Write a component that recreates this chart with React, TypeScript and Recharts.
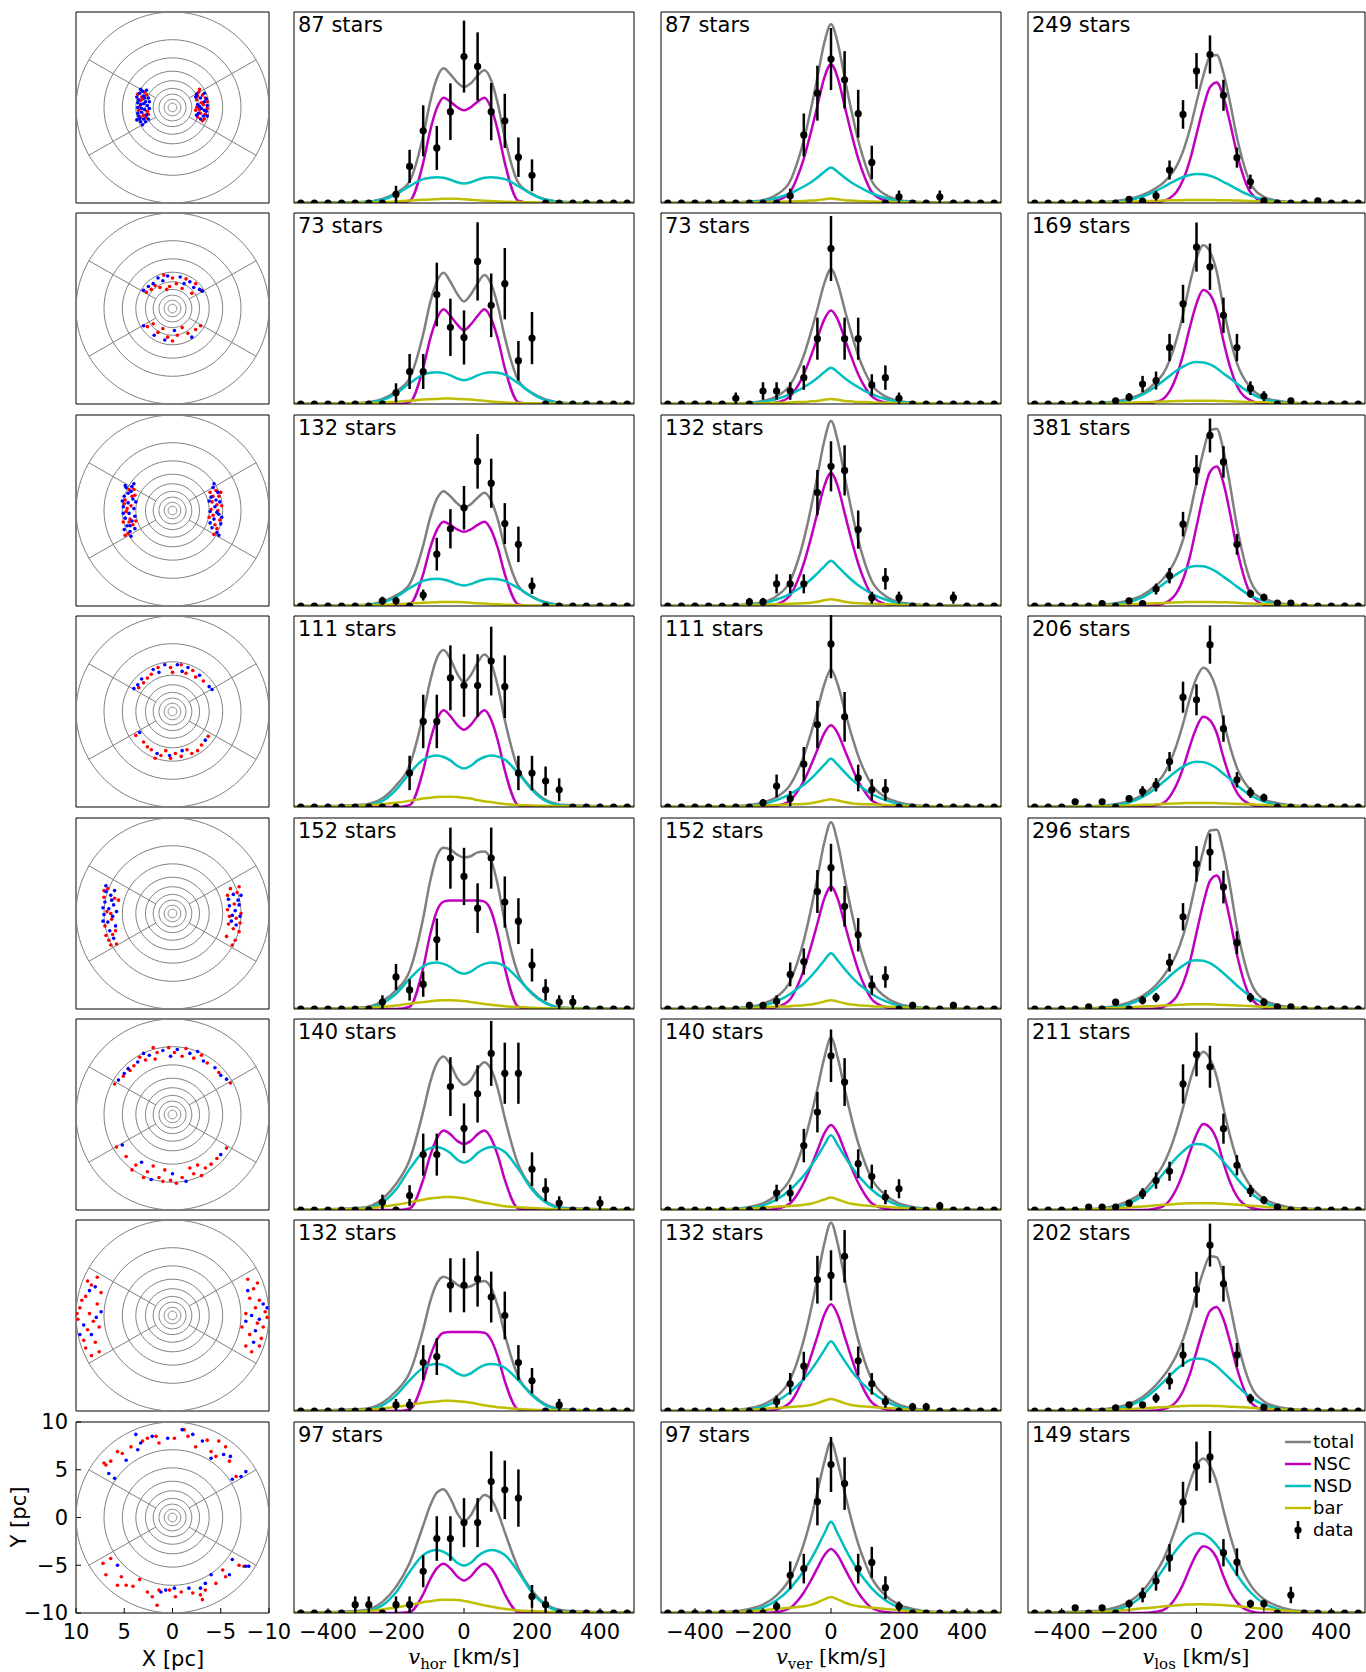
import React from 'react';
import { ComposedChart, Line, Scatter, XAxis, YAxis, ErrorBar, Legend } from 'recharts';

const FONT = '"DejaVu Sans", sans-serif';
const SERIF = '"DejaVu Serif", serif';
const C_TOTAL = '#808080';
const C_NSC = '#bf00bf';
const C_NSD = '#00bfbf';
const C_BAR = '#bfbf00';
const C_GRID = '#808080';

// histogram bin centres (km/s) and the grid the model curves are read on
const bins = [-480, -440, -400, -360, -320, -280, -240, -200, -160, -120, -80, -40, 0, 40, 80, 120, 160, 200, 240, 280, 320, 360, 400, 440, 480];
const curveGrid = [-500, -300, -240, -200, -160, -120, -100, -80, -60, -40, -20, 0, 20, 40, 60, 80, 100, 120, 160, 200, 240, 300, 500];
const xTicks = [-400, -200, 0, 200, 400];
const mapTicks = [-10, -5, 0, 5, 10];
const ringRadii = [10, 7.1, 5.2, 3.8, 2.8, 2.0, 1.4, 0.86, 0.45];
const spokeAngles = [30, 150, 210, 330];

const horStars = [87, 73, 132, 111, 152, 140, 132, 97];
const verStars = [87, 73, 132, 111, 152, 140, 132, 97];
const losStars = [249, 169, 381, 206, 296, 211, 202, 149];
const horYMax = [6, 6, 7, 5, 5, 5, 6, 6];
const verYMax = [8, 5, 8, 5, 8, 8, 8, 8];
const losYMax = [8, 7, 7, 8, 7, 7, 8, 7];

// ---- v_hor ----
const horCounts = [
  [0,0,0,0,0,0,0,.27,1.15,2.27,1.73,2.87,4.6,4.29,2.87,2.58,1.44,.87,0,0,0,0,0,0,0],
  [0,0,0,0,0,0,0,.35,1.02,1.02,3.44,2.41,2.09,4.48,3.1,3.78,1.36,2.07,0,0,0,0,0,0,0],
  [0,0,0,0,0,0,.19,.19,0,.4,1.9,2.83,3.6,5.3,4.5,3.02,2.26,.74,0,0,0,0,0,0,0],
  [0,0,0,0,0,0,0,0,.89,2.24,2.24,3.38,3.18,3.18,3.82,3.15,.89,.89,.68,.45,0,0,0,0,0],
  [0,0,0,0,0,0,.18,.84,.5,.65,1.82,3.95,3.47,2.64,3.95,2.8,2.3,1.15,.5,.18,.18,0,0,0,0],
  [0,0,0,0,0,0,.2,0,.38,1.45,1.45,3.23,2.14,3.04,4.1,3.58,3.58,1.07,.53,.18,0,0,.18,0,0],
  [0,0,0,0,0,0,0,.19,.19,1.52,1.71,3.95,3.95,4.15,3.58,3.0,1.52,.95,0,.19,0,0,0,0,0],
  [0,0,0,0,.26,.26,0,.26,.26,1.31,2.34,2.34,2.84,2.84,4.13,3.87,3.61,.52,.26,0,0,0,0,0,0],
];
const horErrors = [
  [0,0,0,0,0,0,0,.27,.52,.8,.69,.89,1.13,1.07,.9,.85,.62,.5,0,0,0,0,0,0,0],
  [0,0,0,0,0,0,0,.3,.55,.55,1.0,.9,.85,1.23,1.0,1.12,.62,.82,0,0,0,0,0,0,0],
  [0,0,0,0,0,0,.15,.15,0,.2,.6,.72,.8,1.0,.9,.75,.65,.3,0,0,0,0,0,0,0],
  [0,0,0,0,0,0,0,0,.45,.7,.7,.85,.82,.82,.9,.82,.45,.45,.38,.3,0,0,0,0,0],
  [0,0,0,0,0,0,.18,.34,.28,.33,.55,.8,.75,.65,.8,.67,.6,.43,.28,.18,.18,0,0,0,0],
  [0,0,0,0,0,0,.2,0,.27,.55,.55,.77,.65,.75,.85,.8,.8,.44,.3,.18,0,0,.18,0,0],
  [0,0,0,0,0,0,0,.19,.19,.55,.58,.85,.85,.87,.8,.75,.55,.4,0,.19,0,0,0,0,0],
  [0,0,0,0,.26,.26,0,.26,.26,.5,.7,.7,.77,.77,.95,.92,.9,.36,.26,0,0,0,0,0,0],
];
const horTotal = [
  [0,.03,.13,.32,.68,2.11,3.15,3.91,4.23,4.04,3.79,3.64,3.76,4.0,4.17,3.85,3.09,2.05,.63,.29,.11,.03,0],
  [0,.04,.16,.4,.81,2.19,3.16,3.84,4.12,3.84,3.46,3.22,3.44,3.79,4.05,3.76,3.07,2.1,.74,.35,.14,.03,0],
  [0,.04,.16,.39,.8,2.21,3.21,3.92,4.21,4.02,3.76,3.61,3.73,3.97,4.15,3.85,3.14,2.14,.74,.35,.14,.03,0],
  [0,.06,.23,.56,1.09,2.42,3.28,3.89,4.11,3.87,3.49,3.27,3.45,3.78,3.99,3.76,3.14,2.28,.98,.49,.19,.05,0],
  [0,.04,.21,.49,.99,2.38,3.33,4.0,4.22,4.17,4.04,3.97,4.0,4.1,4.12,3.89,3.22,2.27,.9,.43,.17,.03,0],
  [0,.06,.29,.68,1.31,2.58,3.33,3.84,4.02,3.81,3.46,3.28,3.4,3.7,3.87,3.68,3.16,2.41,1.18,.59,.23,.05,0],
  [0,.06,.26,.62,1.2,2.56,3.42,4.01,4.22,4.13,3.97,3.88,3.92,4.03,4.08,3.86,3.26,2.4,1.07,.53,.21,.05,0],
  [0,.08,.35,.82,1.57,2.75,3.36,3.78,3.89,3.6,3.14,2.89,3.07,3.47,3.71,3.58,3.15,2.54,1.4,.71,.28,.07,0],
];
const horNSC = [
  [0,0,0,0,.07,1.26,2.25,2.98,3.31,3.18,3.01,2.91,3.01,3.18,3.31,2.98,2.25,1.26,.07,0,0,0,0],
  [0,0,0,0,.06,1.13,2.03,2.68,2.98,2.77,2.5,2.32,2.5,2.77,2.98,2.68,2.03,1.13,.06,0,0,0,0],
  [0,0,0,0,.06,1.17,2.1,2.78,3.09,2.97,2.81,2.72,2.81,2.97,3.09,2.78,2.1,1.17,.06,0,0,0,0],
  [0,0,0,0,.05,.96,1.72,2.28,2.53,2.38,2.15,2.02,2.15,2.38,2.53,2.28,1.72,.96,.05,0,0,0,0],
  [0,0,0,0,.06,1.08,1.93,2.56,2.81,2.84,2.84,2.84,2.84,2.84,2.81,2.56,1.93,1.08,.06,0,0,0,0],
  [0,0,0,0,.04,.79,1.41,1.87,2.08,1.98,1.81,1.73,1.81,1.98,2.08,1.87,1.41,.79,.04,0,0,0,0],
  [0,0,0,0,.05,.94,1.69,2.23,2.46,2.48,2.48,2.48,2.48,2.48,2.46,2.23,1.69,.94,.05,0,0,0,0],
  [0,0,0,0,.03,.59,1.05,1.4,1.55,1.4,1.15,1.02,1.15,1.4,1.55,1.4,1.05,.59,.03,0,0,0,0],
];
const horNSD = [
  [0,.02,.1,.27,.53,.75,.79,.81,.79,.73,.65,.61,.65,.73,.79,.81,.79,.75,.53,.27,.1,.02,0],
  [0,.02,.12,.33,.65,.92,.98,1.0,.97,.9,.8,.75,.8,.9,.97,1.0,.98,.92,.65,.33,.12,.02,0],
  [0,.02,.12,.33,.65,.92,.98,1.0,.97,.9,.8,.75,.8,.9,.97,1.0,.98,.92,.65,.33,.12,.02,0],
  [0,.03,.16,.45,.88,1.24,1.32,1.35,1.31,1.22,1.08,1.01,1.08,1.22,1.31,1.35,1.32,1.24,.88,.45,.16,.03,0],
  [0,.02,.15,.4,.79,1.12,1.2,1.22,1.18,1.1,.98,.92,.98,1.1,1.18,1.22,1.2,1.12,.79,.4,.15,.02,0],
  [0,.03,.2,.54,1.07,1.52,1.62,1.65,1.6,1.49,1.32,1.24,1.32,1.49,1.6,1.65,1.62,1.52,1.07,.54,.2,.03,0],
  [0,.03,.18,.49,.96,1.36,1.45,1.48,1.44,1.33,1.18,1.11,1.18,1.33,1.44,1.48,1.45,1.36,.96,.49,.18,.03,0],
  [0,.04,.24,.65,1.29,1.82,1.94,1.98,1.92,1.78,1.58,1.49,1.58,1.78,1.92,1.98,1.94,1.82,1.29,.65,.24,.04,0],
];
const horBar = [
  [0,.01,.03,.05,.08,.1,.11,.12,.13,.13,.13,.12,.1,.09,.07,.06,.05,.04,.03,.02,.01,.01,0],
  [0,.02,.04,.07,.1,.14,.15,.16,.17,.17,.16,.15,.14,.12,.1,.08,.06,.05,.03,.02,.02,.01,0],
  [0,.02,.04,.06,.09,.12,.13,.14,.15,.15,.15,.14,.12,.1,.09,.07,.06,.05,.03,.02,.02,.01,0],
  [0,.03,.07,.11,.16,.22,.24,.26,.27,.27,.26,.24,.22,.18,.15,.13,.1,.08,.05,.04,.03,.02,0],
  [0,.02,.06,.09,.14,.18,.2,.22,.23,.23,.22,.21,.18,.16,.13,.11,.09,.07,.05,.03,.02,.01,0],
  [0,.03,.09,.14,.2,.27,.3,.32,.34,.34,.33,.31,.27,.23,.19,.16,.13,.1,.07,.05,.03,.02,0],
  [0,.03,.08,.13,.19,.26,.28,.3,.32,.32,.31,.29,.26,.22,.18,.15,.12,.1,.06,.04,.03,.02,0],
  [0,.04,.11,.17,.25,.34,.37,.4,.42,.42,.41,.38,.34,.29,.24,.2,.16,.13,.08,.06,.04,.03,0],
];

// ---- v_ver ----
const verCounts = [
  [0,0,0,0,0,0,0,0,0,.3,2.85,4.6,6.03,5.16,3.74,1.7,0,.26,0,0,.26,0,0,0,0],
  [0,0,0,0,0,.15,0,.34,.34,.34,.69,1.71,4.07,1.71,1.71,.5,.69,.15,0,0,0,0,0,0,0],
  [0,0,0,0,0,0,.17,.17,.93,.93,.93,4.75,5.85,5.68,3.2,.35,1.14,.35,0,0,0,.35,0,0,0],
  [0,0,0,0,0,0,0,.11,.55,.22,1.12,2.16,4.27,2.36,.76,.45,.45,0,0,0,0,0,0,0,0],
  [0,0,0,0,0,0,.15,.15,.32,1.45,1.99,4.92,5.92,4.3,3.11,1.0,1.34,0,.15,0,0,.15,0,0,0],
  [0,0,0,0,0,0,0,0,.71,.71,2.7,4.1,6.46,5.36,1.94,1.4,.54,.89,0,0,.17,0,0,0,0],
  [0,0,0,0,0,0,0,0,.39,1.14,1.88,5.5,5.68,6.48,2.1,1.14,.39,0,.17,.17,0,0,0,0,0],
  [0,0,0,0,0,0,0,0,.28,1.58,1.86,4.67,6.22,5.42,1.86,2.12,1.06,.28,0,0,0,0,0,0,0],
];
const verErrors = [
  [0,0,0,0,0,0,0,0,0,.3,.9,1.15,1.3,1.2,1.0,.7,0,.26,0,0,.26,0,0,0,0],
  [0,0,0,0,0,.15,0,.23,.23,.23,.32,.55,.85,.55,.55,.28,.32,.15,0,0,0,0,0,0,0],
  [0,0,0,0,0,0,.17,.17,.4,.4,.4,.95,1.05,1.05,.8,.25,.45,.25,0,0,0,.25,0,0,0],
  [0,0,0,0,0,0,0,.1,.3,.2,.45,.62,.9,.65,.35,.28,.28,0,0,0,0,0,0,0,0],
  [0,0,0,0,0,0,.15,.15,.25,.5,.55,.9,1.0,.85,.7,.4,.45,0,.15,0,0,.15,0,0,0],
  [0,0,0,0,0,0,0,0,.35,.35,.7,.85,1.1,1.0,.6,.5,.3,.4,0,0,.17,0,0,0,0],
  [0,0,0,0,0,0,0,0,.25,.45,.6,1.0,1.05,1.1,.6,.45,.25,0,.17,.17,0,0,0,0,0],
  [0,0,0,0,0,0,0,0,.2,.58,.62,1.0,1.15,1.1,.62,.65,.48,.2,0,0,0,0,0,0,0],
];
const verTotal = [
  [0,.02,.06,.12,.35,.92,1.66,2.63,3.87,5.26,6.69,7.49,6.69,5.26,3.87,2.63,1.66,.92,.35,.12,.06,.02,0],
  [0,.01,.03,.08,.2,.5,.83,1.27,1.85,2.48,3.15,3.53,3.15,2.48,1.85,1.27,.83,.5,.2,.08,.03,.01,0],
  [0,.02,.08,.16,.42,1.05,1.78,2.77,4.03,5.45,6.9,7.75,6.9,5.45,4.03,2.77,1.78,1.05,.42,.16,.08,.02,0],
  [0,.02,.05,.12,.26,.58,.91,1.34,1.9,2.54,3.2,3.6,3.2,2.54,1.9,1.34,.91,.58,.26,.12,.05,.02,0],
  [0,.02,.1,.21,.51,1.16,1.9,2.87,4.1,5.5,6.95,7.82,6.95,5.5,4.1,2.87,1.9,1.16,.51,.21,.1,.02,0],
  [0,.04,.13,.28,.63,1.3,1.96,2.8,3.86,5.08,6.36,7.21,6.36,5.08,3.86,2.8,1.96,1.3,.63,.28,.13,.04,0],
  [0,.03,.12,.27,.61,1.32,2.04,2.98,4.18,5.56,6.99,7.89,6.99,5.56,4.18,2.98,2.04,1.32,.61,.27,.12,.03,0],
  [0,.05,.17,.35,.74,1.46,2.11,2.9,3.9,5.07,6.3,7.17,6.3,5.07,3.9,2.9,2.11,1.46,.74,.35,.17,.05,0],
];
const verNSC = [
  [0,0,0,0,.09,.46,1.05,1.86,2.91,4.07,5.23,5.81,5.23,4.07,2.91,1.86,1.05,.46,.09,0,0,0,0],
  [0,0,0,0,.04,.2,.44,.78,1.23,1.72,2.21,2.45,2.21,1.72,1.23,.78,.44,.2,.04,0,0,0,0],
  [0,0,0,0,.08,.45,1.0,1.78,2.79,3.9,5.01,5.57,5.01,3.9,2.79,1.78,1.0,.45,.08,0,0,0,0],
  [0,0,0,0,.03,.17,.39,.68,1.07,1.5,1.93,2.14,1.93,1.5,1.07,.68,.39,.17,.03,0,0,0,0],
  [0,0,0,0,.08,.41,.92,1.64,2.56,3.58,4.61,5.12,4.61,3.58,2.56,1.64,.92,.41,.08,0,0,0,0],
  [0,0,0,0,.05,.28,.64,1.14,1.78,2.49,3.2,3.56,3.2,2.49,1.78,1.14,.64,.28,.05,0,0,0,0],
  [0,0,0,0,.07,.36,.8,1.43,2.24,3.13,4.02,4.47,4.02,3.13,2.24,1.43,.8,.36,.07,0,0,0,0],
  [0,0,0,0,.04,.21,.48,.86,1.34,1.88,2.41,2.68,2.41,1.88,1.34,.86,.48,.21,.04,0,0,0,0],
];
const verNSD = [
  [0,.01,.04,.09,.21,.4,.54,.69,.86,1.07,1.3,1.49,1.3,1.07,.86,.69,.54,.4,.21,.09,.04,.01,0],
  [0,0,.02,.06,.13,.26,.34,.44,.55,.68,.83,.95,.83,.68,.55,.44,.34,.26,.13,.06,.02,0,0],
  [0,.01,.05,.11,.27,.51,.68,.87,1.1,1.37,1.65,1.9,1.65,1.37,1.1,.87,.68,.51,.27,.11,.05,.01,0],
  [0,.01,.03,.08,.18,.34,.45,.58,.73,.91,1.1,1.26,1.1,.91,.73,.58,.45,.34,.18,.08,.03,.01,0],
  [0,.01,.06,.14,.33,.63,.84,1.07,1.35,1.68,2.03,2.33,2.03,1.68,1.35,1.07,.84,.63,.33,.14,.06,.01,0],
  [0,.02,.08,.19,.44,.85,1.13,1.44,1.82,2.25,2.72,3.13,2.72,2.25,1.82,1.44,1.13,.85,.44,.19,.08,.02,0],
  [0,.01,.07,.18,.41,.79,1.05,1.34,1.69,2.1,2.54,2.92,2.54,2.1,1.69,1.34,1.05,.79,.41,.18,.07,.01,0],
  [0,.02,.1,.23,.53,1.03,1.38,1.76,2.22,2.75,3.32,3.82,3.32,2.75,2.22,1.76,1.38,1.03,.53,.23,.1,.02,0],
];
const verBar = [
  [0,.01,.02,.03,.05,.06,.07,.08,.1,.12,.16,.19,.16,.12,.1,.08,.07,.06,.05,.03,.02,.01,0],
  [0,.01,.01,.02,.03,.04,.05,.05,.07,.08,.11,.13,.11,.08,.07,.05,.05,.04,.03,.02,.01,.01,0],
  [0,.01,.03,.05,.07,.09,.1,.12,.14,.18,.24,.28,.24,.18,.14,.12,.1,.09,.07,.05,.03,.01,0],
  [0,.01,.02,.04,.05,.07,.07,.08,.1,.13,.17,.2,.17,.13,.1,.08,.07,.07,.05,.04,.02,.01,0],
  [0,.01,.04,.07,.1,.12,.14,.16,.19,.24,.31,.37,.31,.24,.19,.16,.14,.12,.1,.07,.04,.01,0],
  [0,.02,.05,.09,.14,.17,.19,.22,.26,.34,.44,.52,.44,.34,.26,.22,.19,.17,.14,.09,.05,.02,0],
  [0,.02,.05,.09,.13,.17,.19,.21,.25,.33,.43,.5,.43,.33,.25,.21,.19,.17,.13,.09,.05,.02,0],
  [0,.03,.07,.12,.17,.22,.25,.28,.34,.44,.57,.67,.57,.44,.34,.28,.25,.22,.17,.12,.07,.03,0],
];

// ---- v_los ----
const losCounts = [
  [0,0,0,0,0,0,0,.15,.08,.3,1.38,3.71,5.53,6.22,4.51,1.9,.89,.09,0,0,0,.09,0,0,0],
  [0,0,0,0,0,0,.12,.25,.73,.86,2.07,3.67,5.75,5.03,3.25,2.07,.58,.29,0,.12,0,0,0,0,0],
  [0,0,0,0,0,.09,0,.19,.09,.62,1.11,3.0,4.98,6.25,5.28,2.26,.45,.32,.11,.11,0,0,0,0,0],
  [0,0,0,.22,0,.22,0,.35,.65,.93,1.9,4.6,4.49,6.8,3.28,1.14,.6,.39,0,0,0,0,0,0,0],
  [0,0,0,0,.08,0,.25,0,.32,.42,1.7,3.38,5.32,5.75,4.47,2.43,.42,.25,.08,.08,0,0,0,0,0],
  [0,0,0,0,.11,.11,.11,.25,.6,1.08,1.42,4.62,5.7,5.25,2.98,1.64,.7,.36,.11,0,0,0,0,0,0],
  [0,0,0,0,0,0,.13,.26,.26,.54,1.25,2.35,5.08,6.95,5.33,2.35,.52,.15,0,0,0,0,0,0,0],
  [0,0,0,.19,0,.19,0,.34,.66,1.17,2.02,4.06,5.38,5.72,2.21,1.87,.34,.34,0,.66,0,0,0,0,0],
];
const losErrors = [
  [0,0,0,0,0,0,0,.1,.08,.2,.4,.6,.75,.8,.65,.42,.3,.08,0,0,0,.08,0,0,0],
  [0,0,0,0,0,0,.1,.15,.3,.33,.5,.7,.9,.85,.65,.5,.25,.18,0,.1,0,0,0,0,0],
  [0,0,0,0,0,.09,0,.1,.09,.2,.28,.45,.55,.62,.58,.38,.15,.13,.1,.1,0,0,0,0,0],
  [0,0,0,.12,0,.12,0,.15,.22,.28,.4,.65,.65,.8,.55,.32,.22,.17,0,0,0,0,0,0,0],
  [0,0,0,0,.08,0,.12,0,.15,.17,.33,.5,.65,.68,.6,.42,.17,.14,.08,.08,0,0,0,0,0],
  [0,0,0,0,.1,.1,.1,.1,.2,.3,.35,.72,.8,.77,.55,.37,.22,.15,.1,0,0,0,0,0,0],
  [0,0,0,0,0,0,.1,.1,.1,.2,.35,.5,.75,.9,.75,.5,.2,.1,0,0,0,0,0,0,0],
  [0,0,0,.1,0,.1,0,.15,.27,.35,.5,.75,.9,.95,.5,.5,.15,.15,0,.3,0,0,0,0,0],
];
const losTotal = [
  [0,.03,.08,.17,.34,.63,.83,1.12,1.52,2.16,3.07,4.22,5.32,6.12,6.2,5.44,4.18,2.75,.84,.26,.1,.03,0],
  [0,.03,.09,.2,.4,.81,1.09,1.59,2.33,3.28,4.41,5.34,5.82,5.58,4.85,3.53,2.38,1.5,.6,.24,.12,.04,0],
  [0,.03,.1,.21,.4,.75,.98,1.3,1.75,2.42,3.37,4.53,5.65,6.44,6.5,5.71,4.4,2.93,.93,.3,.12,.04,0],
  [0,.04,.12,.25,.51,.99,1.31,1.83,2.56,3.48,4.54,5.4,5.83,5.59,4.88,3.62,2.51,1.64,.71,.31,.16,.05,0],
  [0,.04,.11,.24,.48,.88,1.17,1.54,2.0,2.68,3.62,4.75,5.8,6.54,6.57,5.76,4.46,2.99,1.02,.34,.15,.05,0],
  [0,.05,.16,.34,.66,1.25,1.63,2.17,2.89,3.74,4.71,5.44,5.8,5.54,4.88,3.73,2.7,1.85,.88,.41,.2,.06,0],
  [0,.05,.15,.3,.59,1.09,1.42,1.82,2.32,3.0,3.88,4.91,5.84,6.48,6.44,5.65,4.4,3.02,1.1,.4,.18,.06,0],
  [0,.07,.2,.41,.81,1.49,1.92,2.49,3.18,3.95,4.78,5.4,5.66,5.4,4.79,3.77,2.83,2.04,1.03,.5,.26,.08,0],
];
const losNSC = [
  [0,0,0,0,0,.03,.08,.2,.45,.96,1.77,2.88,3.99,4.85,5.05,4.44,3.33,2.07,.45,.05,0,0,0],
  [0,0,0,0,0,.08,.17,.46,1.0,1.8,2.8,3.68,4.18,4.01,3.43,2.3,1.34,.67,.13,0,0,0,0],
  [0,0,0,0,0,.03,.08,.2,.46,.97,1.79,2.91,4.04,4.91,5.11,4.5,3.37,2.1,.46,.05,0,0,0],
  [0,0,0,0,0,.08,.15,.42,.91,1.63,2.53,3.33,3.78,3.63,3.1,2.08,1.21,.6,.11,0,0,0,0],
  [0,0,0,0,0,.02,.07,.2,.44,.93,1.71,2.79,3.86,4.69,4.89,4.3,3.23,2.0,.44,.05,0,0,0],
  [0,0,0,0,0,.06,.13,.35,.76,1.35,2.11,2.77,3.15,3.02,2.58,1.73,1.01,.5,.09,0,0,0,0],
  [0,0,0,0,0,.02,.07,.17,.39,.83,1.53,2.49,3.44,4.19,4.36,3.84,2.88,1.79,.39,.04,0,0,0],
  [0,0,0,0,0,.05,.1,.27,.59,1.05,1.64,2.16,2.45,2.35,2.01,1.35,.78,.39,.07,0,0,0,0],
];
const losNSD = [
  [0,.01,.05,.12,.27,.51,.65,.81,.96,1.08,1.17,1.21,1.2,1.14,1.03,.88,.74,.58,.31,.15,.06,.01,0],
  [0,.02,.06,.15,.34,.65,.83,1.03,1.22,1.37,1.49,1.54,1.52,1.45,1.31,1.12,.94,.74,.4,.18,.08,.02,0],
  [0,.01,.06,.15,.32,.62,.79,.98,1.16,1.31,1.43,1.47,1.46,1.38,1.25,1.07,.9,.71,.38,.18,.07,.01,0],
  [0,.02,.08,.19,.42,.8,1.03,1.27,1.5,1.69,1.84,1.9,1.88,1.79,1.62,1.39,1.16,.91,.49,.23,.1,.02,0],
  [0,.02,.07,.18,.39,.75,.97,1.2,1.41,1.59,1.74,1.79,1.77,1.68,1.52,1.31,1.09,.86,.47,.21,.09,.02,0],
  [0,.02,.1,.24,.53,1.02,1.31,1.62,1.91,2.15,2.35,2.42,2.4,2.27,2.06,1.77,1.48,1.16,.63,.29,.12,.02,0],
  [0,.02,.09,.22,.48,.92,1.19,1.47,1.74,1.96,2.13,2.2,2.18,2.07,1.87,1.61,1.34,1.06,.57,.26,.11,.02,0],
  [0,.03,.12,.29,.64,1.23,1.58,1.96,2.31,2.6,2.83,2.92,2.89,2.74,2.48,2.13,1.78,1.4,.76,.35,.15,.03,0],
];
const losBar = [
  [0,.02,.03,.05,.07,.09,.1,.11,.11,.12,.13,.13,.13,.13,.12,.12,.11,.1,.08,.06,.04,.02,0],
  [0,.01,.03,.05,.06,.08,.09,.1,.11,.11,.12,.12,.12,.12,.11,.11,.1,.09,.07,.06,.04,.02,0],
  [0,.02,.04,.06,.08,.1,.11,.12,.13,.14,.15,.15,.15,.15,.14,.14,.13,.12,.09,.07,.05,.03,0],
  [0,.02,.04,.06,.09,.11,.13,.14,.15,.16,.17,.17,.17,.17,.16,.15,.14,.13,.11,.08,.06,.03,0],
  [0,.02,.04,.06,.09,.11,.13,.14,.15,.16,.17,.17,.17,.17,.16,.15,.14,.13,.11,.08,.06,.03,0],
  [0,.03,.06,.1,.13,.17,.19,.2,.22,.24,.25,.25,.25,.25,.24,.23,.21,.19,.16,.12,.08,.04,0],
  [0,.03,.06,.08,.11,.15,.16,.18,.19,.21,.22,.22,.22,.22,.21,.2,.18,.17,.14,.1,.07,.04,0],
  [0,.04,.08,.12,.17,.21,.24,.26,.28,.3,.31,.32,.32,.31,.3,.29,.27,.25,.2,.15,.11,.05,0],
];

// ---- star positions on the sky maps (X, Y in pc) ----
const mapRed = [
  [[3.1,0.9],[2.7,1.3],[3.4,0.1],[3.0,-0.8],[2.6,-0.4],[3.3,-1.0],[2.9,1.6],[3.5,-0.3],[3.3,0.7],[2.8,-1.1],[3.6,1.4],[2.5,-0.7],[3.2,1.1],[-2.7,1.6],[-3.1,1.3],[-3.4,1.0],[-2.5,0.8],[-3.0,0.5],[-2.8,-0.2],[-3.4,-0.7],[-2.6,-1.0],[-3.1,-1.4],[-3.6,-0.1],[-2.4,-0.3],[-2.6,1.2],[-3.2,0.3],[-2.9,-0.6],[-3.6,0.6],[-2.5,0.0],[-3.3,-1.2],[-2.8,1.9]],
  [[2.7,1.7],[1.8,2.4],[0.9,3.5],[0,3.2],[-0.4,2.6],[-1.4,3.1],[-2.4,2.6],[-3.0,1.9],[1.3,2.2],[0.3,2.3],[-1.0,2.1],[2.2,2.0],[-2.0,1.6],[0.6,2.0],[2.6,-1.9],[1.5,-2.5],[0.5,-3.0],[-0.5,-2.8],[-1.6,-2.6],[-2.4,-2.2],[1.0,-2.1],[-1.0,-2.0],[0.0,-3.4],[2.0,-1.6],[-2.9,-1.8]],
  [[4.5,2.2],[4.9,1.1],[4.3,0.5],[4.8,-0.1],[4.1,-1.5],[4.6,-2.4],[3.9,1.6],[5.1,-1.2],[4.4,-0.9],[4.7,0.2],[4.2,1.5],[5.0,0.7],[4.5,-1.2],[3.8,-1.1],[4.9,-2.6],[4.0,2.2],[-4.5,2.1],[-4.1,0.9],[-4.7,0.0],[-4.2,-0.5],[-4.9,-1.0],[-4.4,-1.5],[-3.9,1.9],[-5.1,0.5],[-4.3,-2.5],[-4.8,1.5],[-4.0,0.1],[-4.6,0.6],[-5.0,1.9],[-3.8,-0.7],[-4.6,-1.9],[-4.2,1.5]],
  [[3.5,2.5],[2.6,3.5],[1.5,4.6],[0.2,4.6],[-0.9,4.9],[-2.1,4.3],[-3.2,3.2],[2.2,3.9],[0,4.1],[-2.4,3.6],[3.0,3.0],[-1.4,4.0],[3.8,-2.5],[3.0,-3.2],[2.2,-4.0],[1.2,-4.6],[0.2,-4.9],[-0.9,-4.7],[-2.0,-4.4],[-3.0,-3.5],[-3.7,-2.6],[2.6,-3.7],[-1.5,-4.0],[0.7,-4.1],[-0.3,-4.4],[1.8,-4.9],[-2.6,-4.1]],
  [[6.7,2.6],[6.0,1.6],[6.8,0.2],[6.3,-0.6],[7.0,-1.3],[6.2,-2.2],[6.6,-2.8],[5.8,-3.2],[6.9,-2.3],[6.4,-3.3],[5.6,1.4],[7.1,1.7],[6.4,0.0],[7.1,2.4],[5.9,-1.8],[-6.0,2.6],[-6.7,2.2],[-5.7,1.9],[-6.4,1.0],[-7.1,0.0],[-5.9,-0.3],[-6.3,-1.6],[-6.9,-1.9],[-5.6,-2.4],[-6.5,-2.8],[-6.2,-3.3],[-7.0,-1.0],[-5.8,-1.1],[-6.6,-0.5],[-5.7,0.4],[-6.9,2.8]],
  [[6.0,3.2],[5.1,4.0],[4.0,5.1],[2.8,5.7],[1.6,6.5],[0.4,7.0],[-1.0,6.1],[-2.2,5.9],[-3.6,5.4],[-4.8,4.4],[-6.0,3.3],[1.8,5.8],[-0.2,6.5],[-1.4,6.9],[3.4,6.0],[-3.0,6.2],[4.4,4.6],[2.0,7.0],[5.8,-3.4],[4.8,-4.4],[3.8,-5.3],[2.6,-6.0],[1.4,-6.6],[0.2,-6.9],[-1.0,-6.6],[-2.2,-6.2],[-3.4,-5.6],[-4.6,-4.6],[-5.6,-3.5],[4.2,-5.8],[2.0,-5.4],[0.8,-5.8],[-0.4,-7.2],[-1.8,-5.6],[-3.0,-6.4],[-4.0,-5.2],[3.0,-6.6],[1.0,-7.0],[-2.6,-5.3]],
  [[9.6,0.8],[9.0,2.0],[8.4,3.2],[7.8,4.0],[9.8,-0.4],[8.8,-1.5],[8.0,-2.8],[7.6,-3.8],[9.2,-2.6],[8.6,0.2],[7.8,1.2],[9.4,1.6],[8.2,-0.6],[7.4,2.4],[9.0,-3.4],[8.4,-4.2],[7.6,-1.2],[9.9,0.2],[8.8,3.6],[-9.0,1.6],[-8.4,2.8],[-7.8,3.8],[-9.6,0.4],[-8.8,-0.8],[-8.0,-2.0],[-7.6,-3.2],[-9.2,-2.4],[-8.6,0.8],[-7.6,0.2],[-9.4,-1.2],[-8.2,-3.8],[-9.8,-0.2],[-8.0,1.8],[-7.2,-1.2],[-8.8,3.4],[-9.0,-3.2]],
  [[7.1,5.7],[6.4,5.9],[5.2,6.7],[4.3,7.4],[2.6,8.3],[1.4,7.8],[-0.2,8.3],[-1.2,9.2],[-2.4,7.4],[-3.6,8.1],[-4.8,8.0],[-5.5,7.4],[-5.9,5.9],[-6.6,4.3],[-4.0,6.9],[-1.6,8.5],[1.7,8.5],[3.1,8.0],[5.7,6.9],[6.9,5.5],[-4.5,6.4],[7.2,-4.8],[6.9,-6.0],[6.4,-4.3],[5.3,-6.2],[4.8,-7.1],[3.4,-6.5],[2.6,-7.8],[1.6,-9.2],[1.4,-7.6],[0.3,-7.6],[-0.9,-7.8],[-2.1,-7.9],[-3.1,-8.6],[-3.4,-7.6],[-4.5,-6.9],[-5.2,-5.5],[-5.5,-6.2],[-6.9,-5.0],[-7.4,-5.1],[4.1,-7.2],[5.7,-7.1],[-0.3,-8.3],[-2.9,-8.1],[2.1,-8.3]],
];
const mapBlue = [
  [[3.4,1.5],[3.0,1.2],[3.5,0.8],[2.8,0.6],[3.3,0.3],[3.6,0],[2.9,-0.2],[3.2,-0.5],[3.5,-0.9],[2.7,-0.8],[3.0,-1.2],[3.3,-1.5],[2.6,0.2],[3.1,1.7],[2.9,1.0],[3.4,-1.2],[2.8,-1.5],[3.6,0.5],[3.2,-0.1],[3.0,0.4],[2.5,1.0],[3.7,1.1],[2.4,-0.1],[3.6,-0.6],[2.5,-1.2],[3.1,-1.8],[2.7,1.8],[3.3,1.9],[2.4,0.6],[3.7,-1.3],[-2.5,1.4],[-2.9,1.0],[-3.3,0.6],[-2.6,0.3],[-3.0,-0.1],[-3.5,-0.4],[-2.7,-0.6],[-3.2,-0.9],[-2.9,-1.2],[-3.6,0.2],[-2.4,1.1],[-3.5,0.9],[-2.8,0.1],[-3.3,-0.3],[-2.5,-0.8],[-3.6,-0.9],[-3.3,1.5]],
  [[3.0,1.9],[2.5,2.3],[1.5,3.2],[0.5,3.4],[-0.8,3.3],[-1.8,2.8],[-2.8,2.0],[-3.1,1.8],[2.0,2.6],[-2.2,2.2],[1.0,2.9],[-1.2,2.6],[1.9,-2.8],[-0.2,-2.3],[-2.0,-3.0],[0.8,-3.3],[3.0,-1.8]],
  [[4.8,2.4],[4.3,2.0],[5.0,1.5],[4.1,1.2],[4.6,0.8],[5.1,0.4],[4.0,0.2],[4.5,-0.3],[4.9,-0.8],[4.2,-1.1],[4.7,-1.6],[4.4,-2.2],[5.0,-2.0],[3.9,-0.6],[4.6,1.8],[4.2,2.5],[4.0,2.8],[5.2,1.0],[3.8,0.9],[4.4,-1.6],[5.1,-0.3],[3.9,-1.9],[4.9,2.6],[4.3,-2.7],[-4.2,2.4],[-4.7,1.9],[-4.0,1.4],[-4.9,0.9],[-4.4,0.4],[-3.9,-0.1],[-4.8,-0.4],[-4.3,-0.9],[-5.0,-1.4],[-4.1,-1.8],[-4.6,-2.3],[-4.5,1.1],[-3.8,1.0],[-4.6,-0.2],[-5.1,-0.7],[-3.9,-1.3],[-4.8,-2.6],[-4.3,2.8]],
  [[4.0,2.4],[3.2,3.4],[2.0,4.4],[0.8,4.9],[-0.5,4.9],[-1.6,4.6],[-2.8,3.8],[-3.8,2.6],[1.4,4.1],[-1.0,4.2],[3.6,2.8],[-4.1,2.3],[3.4,-2.2],[-1.0,-4.1],[1.6,-4.4],[-3.4,-3.0],[0.3,-4.6]],
  [[6.9,2.3],[6.4,1.9],[7.0,1.2],[6.1,0.9],[6.6,0.5],[7.1,-0.1],[6.2,-0.3],[6.7,-0.9],[5.9,-1.3],[6.5,-1.8],[6.9,2.9],[6.3,1.4],[5.8,0.2],[7.2,0.6],[6.0,2.4],[7.2,-0.8],[6.1,-2.6],[-6.3,2.0],[-6.8,1.4],[-5.9,0.8],[-6.5,0.3],[-7.0,-0.3],[-6.1,-0.8],[-6.6,-1.2],[-5.8,1.5],[-6.9,0.9],[-6.2,-0.2],[-7.1,1.9]],
  [[5.6,3.6],[4.6,4.8],[3.6,5.5],[2.4,6.2],[1.0,6.7],[-0.5,6.8],[-1.8,6.4],[-3.2,5.6],[-4.4,4.9],[-5.6,3.7],[3.0,6.4],[-2.6,6.6],[0.2,6.1],[5.0,4.3],[-5.0,4.1],[5.2,-3.2],[3.2,-5.0],[0.0,-6.2],[-1.4,-7.0],[-5.0,-4.2],[2.2,-6.8]],
  [[8.6,2.6],[9.2,-1.0],[7.9,-0.2],[8.4,-2.0],[9.6,-2.0],[8.0,3.0],[7.4,0.4],[-8.2,0.0],[-9.4,1.2],[-8.6,-1.6],[-7.8,2.6],[-9.0,-0.4],[-8.4,-2.8],[-9.8,0.8],[-7.6,-0.6]],
  [[6.6,4.6],[6.0,4.1],[4.8,6.0],[3.8,8.7],[3.3,7.8],[2.1,8.5],[0.5,8.3],[-1.0,9.2],[-2.1,8.7],[-3.1,8.0],[-4.0,6.2],[-5.3,6.6],[-6.0,6.4],[-6.2,4.0],[-7.1,4.3],[-7.6,4.8],[3.6,7.1],[5.7,-5.0],[0.7,-7.6],[-0.2,-7.4],[-1.7,-7.4],[-2.9,-7.4],[-3.4,-6.9],[-4.0,-6.0],[-5.9,-6.0],[-6.2,-4.4],[-7.6,-5.1],[-7.9,-5.1],[1.2,-7.8]],
];

// ---- layout ----
const rowTops = [12, 213, 415, 616, 818, 1019, 1220, 1422];
const PANEL_H = 191;
const MAP_X = 76;
const MAP_W = 193;

const columns = [
  { left: 294, width: 340, sub: 'hor', stars: horStars, yMax: horYMax, counts: horCounts, errors: horErrors, total: horTotal, nsc: horNSC, nsd: horNSD, bar: horBar },
  { left: 661, width: 340, sub: 'ver', stars: verStars, yMax: verYMax, counts: verCounts, errors: verErrors, total: verTotal, nsc: verNSC, nsd: verNSD, bar: verBar },
  { left: 1028, width: 337, sub: 'los', stars: losStars, yMax: losYMax, counts: losCounts, errors: losErrors, total: losTotal, nsc: losNSC, nsd: losNSD, bar: losBar },
];

const fmt = (v: number) => (v < 0 ? '\u2212' + Math.abs(v) : String(v));
const tickText = { fill: '#000', fontSize: 21, fontFamily: FONT };

// polar grid of the sky maps
const ringPts = ringRadii.map((r) =>
  Array.from({ length: 73 }, (_, i) => {
    const a = (i * 5 * Math.PI) / 180;
    return { x: r * Math.cos(a), y: r * Math.sin(a) };
  })
);
const spokePts = spokeAngles.map((d) => {
  const a = (d * Math.PI) / 180;
  return [
    { x: 2.0 * Math.cos(a), y: 2.0 * Math.sin(a) },
    { x: 10 * Math.cos(a), y: 10 * Math.sin(a) },
  ];
});

const noShape = () => <g />;
const dataDot = (props: any) => <circle cx={props.cx} cy={props.cy} r={3.6} fill="#000" />;
const starDot = (color: string) => (props: any) => <circle cx={props.cx} cy={props.cy} r={1.8} fill={color} />;

const legendItems = [
  { label: 'total', color: C_TOTAL },
  { label: 'NSC', color: C_NSC },
  { label: 'NSD', color: C_NSD },
  { label: 'bar', color: C_BAR },
  { label: 'data', color: '#000' },
];

const LegendBox = () => (
  <svg width={90} height={116}>
    {legendItems.map((it, i) => {
      const y = 10 + i * 22;
      return (
        <g key={it.label}>
          {it.label === 'data' ? (
            <g>
              <line x1={13} x2={13} y1={y - 9} y2={y + 9} stroke="#000" strokeWidth={2.5} />
              <circle cx={13} cy={y} r={3.6} fill="#000" />
            </g>
          ) : (
            <line x1={0} x2={26} y1={y} y2={y} stroke={it.color} strokeWidth={2.5} />
          )}
          <text x={28} y={y} dy="0.35em" fontSize={18} fontFamily={FONT} fill="#000">
            {it.label}
          </text>
        </g>
      );
    })}
  </svg>
);

function Hist({ c, row }: { c: number; row: number }) {
  const col = columns[c];
  const last = row === 7;
  const T = col.yMax[row];
  const bottomH = last ? 40 : 1;
  const table = curveGrid.map((x, i) => ({
    x,
    tot: col.total[row][i],
    nsc: col.nsc[row][i],
    nsd: col.nsd[row][i],
    bar: col.bar[row][i],
  }));
  const pts = bins.map((x, i) => ({ x, y: col.counts[row][i], err: col.errors[row][i] }));
  const yTicks = Array.from({ length: T - 1 }, (_, i) => i + 1);
  return (
    <div style={{ position: 'absolute', left: col.left - 1, top: rowTops[row] - 1 }}>
      <ComposedChart width={col.width + 2} height={PANEL_H + 1 + bottomH} data={table} margin={{ top: 0, right: 0, bottom: 0, left: 0 }}>
        <XAxis dataKey="x" type="number" domain={[-500, 500]} ticks={xTicks} allowDataOverflow interval={0}
          height={bottomH} tickSize={-5} tickMargin={16} tick={last ? tickText : false} tickFormatter={fmt} stroke="#000" />
        <XAxis xAxisId="top" orientation="top" type="number" domain={[-500, 500]} ticks={xTicks} allowDataOverflow interval={0}
          height={1} tickSize={-5} tick={false} stroke="#000" />
        <YAxis type="number" domain={[0, T]} ticks={yTicks} allowDataOverflow interval={0} width={1} tickSize={-5} tick={false} stroke="#000" />
        <YAxis yAxisId="right" orientation="right" type="number" domain={[0, T]} ticks={yTicks} allowDataOverflow interval={0}
          width={1} tickSize={-5} tick={false} stroke="#000" />
        <Line dataKey="tot" type="monotone" stroke={C_TOTAL} strokeWidth={2.5} dot={false} activeDot={false} isAnimationActive={false} />
        <Line dataKey="nsc" type="monotone" stroke={C_NSC} strokeWidth={2.5} dot={false} activeDot={false} isAnimationActive={false} />
        <Line dataKey="nsd" type="monotone" stroke={C_NSD} strokeWidth={2.5} dot={false} activeDot={false} isAnimationActive={false} />
        <Line dataKey="bar" type="monotone" stroke={C_BAR} strokeWidth={2.5} dot={false} activeDot={false} isAnimationActive={false} />
        <Scatter data={pts} dataKey="y" fill="#000" shape={dataDot} isAnimationActive={false}>
          <ErrorBar dataKey="err" direction="y" width={0} stroke="#000" strokeWidth={2.5} />
        </Scatter>
        {last && c === 2 ? (
          <Legend layout="horizontal" verticalAlign="middle" align="center" content={<LegendBox />}
            wrapperStyle={{ left: 258, top: 11, width: 90, height: 116 }} />
        ) : null}
      </ComposedChart>
    </div>
  );
}

function SkyMap({ row }: { row: number }) {
  const last = row === 7;
  const leftW = last ? 62 : 1;
  const bottomH = last ? 40 : 1;
  const mTop = last ? 14 : 0;
  const mRight = last ? 28 : 0;
  const red = mapRed[row].map(([x, y]) => ({ x, y }));
  const blue = mapBlue[row].map(([x, y]) => ({ x, y }));
  return (
    <div style={{ position: 'absolute', left: MAP_X - leftW, top: rowTops[row] - 1 - mTop }}>
      <ComposedChart width={leftW + MAP_W + 1 + mRight} height={mTop + 1 + PANEL_H + bottomH} margin={{ top: mTop, right: mRight, bottom: 0, left: 0 }}>
        <XAxis dataKey="x" type="number" domain={[-10, 10]} reversed ticks={mapTicks} allowDataOverflow interval={0}
          height={bottomH} tickSize={-5} tickMargin={16} tick={last ? tickText : false} tickFormatter={fmt} stroke="#000" />
        <XAxis xAxisId="top" orientation="top" type="number" domain={[-10, 10]} reversed ticks={mapTicks} allowDataOverflow interval={0}
          height={1} tickSize={-5} tick={false} stroke="#000" />
        <YAxis type="number" domain={[-10, 10]} ticks={mapTicks} allowDataOverflow interval={0}
          width={leftW} tickSize={-5} tickMargin={13} tick={last ? tickText : false} tickFormatter={fmt} stroke="#000" />
        <YAxis yAxisId="right" orientation="right" type="number" domain={[-10, 10]} ticks={mapTicks} allowDataOverflow interval={0}
          width={1} tickSize={-5} tick={false} stroke="#000" />
        {ringPts.map((pts, i) => (
          <Scatter key={'ring' + i} data={pts} dataKey="y" line={{ stroke: C_GRID, strokeWidth: 1 }} shape={noShape} isAnimationActive={false} />
        ))}
        {spokePts.map((pts, i) => (
          <Scatter key={'spoke' + i} data={pts} dataKey="y" line={{ stroke: C_GRID, strokeWidth: 1 }} shape={noShape} isAnimationActive={false} />
        ))}
        <Scatter data={red} dataKey="y" fill="#ff0000" shape={starDot('#ff0000')} isAnimationActive={false} />
        <Scatter data={blue} dataKey="y" fill="#0000ff" shape={starDot('#0000ff')} isAnimationActive={false} />
      </ComposedChart>
    </div>
  );
}

const AxisTitle = ({ cx, sub }: { cx: number; sub: string }) => (
  <div style={{ position: 'absolute', left: cx - 100, width: 200, top: 1645, textAlign: 'center', fontSize: 21, fontFamily: FONT, color: '#000', whiteSpace: 'nowrap' }}>
    <span style={{ fontFamily: SERIF, fontStyle: 'italic' }}>v</span>
    <span style={{ fontFamily: SERIF, fontSize: 15, position: 'relative', top: 5 }}>{sub}</span>
    <span style={{ fontFamily: SERIF }}> [</span>
    <span>km/s</span>
    <span style={{ fontFamily: SERIF }}>]</span>
  </div>
);

export default function App() {
  const rows = [0, 1, 2, 3, 4, 5, 6, 7];
  return (
    <div style={{ position: 'absolute', left: 0, top: 0, width: 1366, height: 1672, background: '#fff', overflow: 'hidden' }}>
      {rows.map((r) => (
        <SkyMap key={'m' + r} row={r} />
      ))}
      {columns.map((col, c) =>
        rows.map((r) => <Hist key={'h' + c + '-' + r} c={c} row={r} />)
      )}
      {columns.map((col, c) =>
        rows.map((r) => (
          <div key={'s' + c + '-' + r} style={{ position: 'absolute', left: col.left + 4, top: rowTops[r] + 3, fontSize: 21, lineHeight: '20px', fontFamily: FONT, color: '#000', whiteSpace: 'nowrap' }}>
            {col.stars[r]} stars
          </div>
        ))
      )}
      <AxisTitle cx={464} sub="hor" />
      <AxisTitle cx={831} sub="ver" />
      <AxisTitle cx={1196} sub="los" />
      <div style={{ position: 'absolute', left: 73, width: 200, top: 1647, textAlign: 'center', fontSize: 21, fontFamily: FONT, color: '#000' }}>X [pc]</div>
      <div style={{ position: 'absolute', left: -31, width: 100, top: 1505, textAlign: 'center', fontSize: 21, fontFamily: FONT, color: '#000', transform: 'rotate(-90deg)' }}>Y [pc]</div>
    </div>
  );
}
